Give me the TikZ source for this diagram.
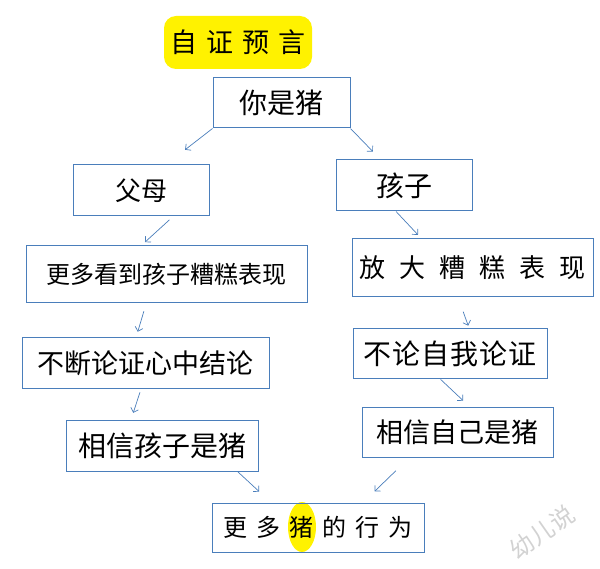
\documentclass[tikz,border=0pt]{standalone}
\usepackage{fontspec}
\setmainfont{Noto Sans CJK SC}
\usetikzlibrary{arrows.meta,shapes.geometric}
\definecolor{boxblue}{RGB}{74,126,187}
\definecolor{marker}{RGB}{255,242,0}
\newcommand\sk[1]{\hspace{#1pt}}

\begin{document}
\begin{tikzpicture}[x=1pt,y=-1pt,every node/.style={inner sep=0pt}]
	\tikzset{BoxStyle/.style={draw=boxblue, line width=1pt},
		Size/.style={font=\fontsize{#1}{#1}\selectfont},
		Arrow/.style={-{Straight Barb[length=4pt,width=8pt]}, draw=boxblue, line width=0.7pt}}
	\useasboundingbox (0,0) rectangle (600,569);
	\node[fill=marker,rounded corners=12pt,minimum width=148pt,minimum height=53pt,Size=27] (title) at (238,42.5) {自\sk{9}证\sk{9}预\sk{9}言};
	\node[BoxStyle,minimum width=137pt,minimum height=50pt,Size=28] (you) at (281.5,103) {你是猪};
	\node[BoxStyle,minimum width=136pt,minimum height=51pt,Size=26] (parents) at (141,190.5) {父母};
	\node[BoxStyle,minimum width=136pt,minimum height=51pt,Size=28] (child) at (404,185.5) {孩子};
	\node[BoxStyle,minimum width=281pt,minimum height=57pt,Size=24] (seemore) at (166.5,274.5) {更多看到孩子糟糕表现};
	\node[BoxStyle,minimum width=241pt,minimum height=58pt,Size=26] (magnify) at (472.5,268) {放\sk{14}大\sk{14}糟\sk{14}糕\sk{14}表\sk{14}现};
	\node[BoxStyle,minimum width=247pt,minimum height=51pt,Size=27] (prove) at (145.5,363.5) {不断论证心中结论};
	\node[BoxStyle,minimum width=194pt,minimum height=50pt,Size=28] (selfprove) at (450,354) {不\sk{1}论\sk{1}自\sk{1}我\sk{1}论\sk{1}证};
	\node[BoxStyle,minimum width=192pt,minimum height=51pt,Size=28] (believechild) at (162,445.5) {相信孩子是猪};
	\node[BoxStyle,minimum width=191pt,minimum height=50pt,Size=27] (believeself) at (457.5,432) {相信自己是猪};
	\node[fill=marker,ellipse,minimum width=28pt,minimum height=50pt] (pigmark) at (302,527) {};
	\node[BoxStyle,minimum width=212pt,minimum height=49pt,Size=24] (pigmore) at (318,527.5) {更\sk{9}多\sk{9}猪\sk{9}的\sk{9}行\sk{9}为};
	\node[rotate=35,text=gray!35,Size=24] (watermark) at (542,532) {幼儿说};
	\draw[Arrow,shorten >=24pt] (you.south west) -- (parents.46);
	\draw[Arrow,shorten >=11pt] (you.south east) -- (child.132);
	\draw[Arrow,shorten <=5pt,shorten >=5pt] (parents.-39) -- (seemore.131);
	\draw[Arrow,shorten >=5pt] (child.-107) -- (magnify.150);
	\draw[Arrow,shorten <=8pt,shorten >=6pt] (seemore.-125) -- (prove.110);
	\draw[Arrow,shorten <=15pt,shorten >=3pt] (magnify.-116) -- (selfprove.53);
	\draw[Arrow,shorten <=3pt,shorten >=7pt] (prove.-100) -- (believechild.140);
	\draw[Arrow,shorten >=8.5pt] (selfprove.-110) -- (believeself.65);
	\draw[Arrow,shorten >=16pt] (believechild.-19) -- (pigmore.152);
	\draw[Arrow,shorten <=19pt,shorten >=16pt] (believeself.-152) -- (pigmore.29);
\end{tikzpicture}
\end{document}
